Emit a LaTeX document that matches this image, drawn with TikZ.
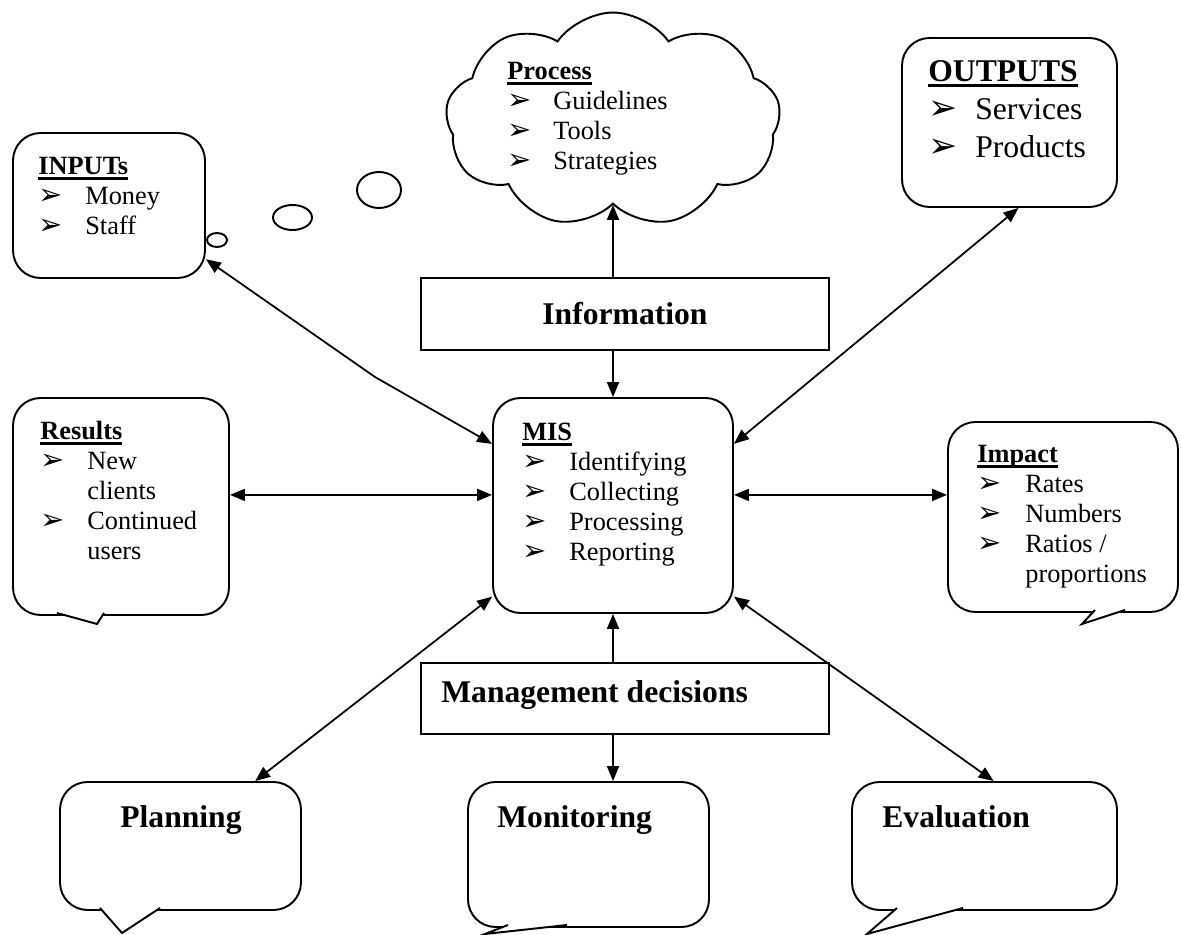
\documentclass[tikz,border=0pt]{standalone}
\usepackage{fontspec}
\setmainfont{Liberation Serif}
\newfontfamily\dingfont[Scale=1.1]{DejaVu Sans}
\usetikzlibrary{arrows.meta,shapes.symbols,calc}
\newcommand{\bul}{{\dingfont\symbol{"27A2}}}
\newcommand{\hd}[1]{\setbox0\hbox{\textbf{#1}}\rlap{\rule[-2.6pt]{\wd0}{1.2pt}}\box0}

\tikzset{
  box/.style={draw, line width=1.1pt, rounded corners=0.55cm, inner sep=0pt},
  flat/.style={draw, line width=1.1pt, inner sep=0pt},
  lst/.style={anchor=base west, inner sep=0pt, font=\fontsize{15}{17}\selectfont},
  big/.style={inner sep=0pt, font=\fontsize{18}{21.5}\selectfont\bfseries},
  link/.style={line width=1pt, {Triangle[length=0.3cm,width=0.24cm]}-{Triangle[length=0.3cm,width=0.24cm]}},
  toward/.style={line width=1pt, -{Triangle[length=0.3cm,width=0.24cm]}},
  tail/.style={line width=1.1pt, fill=white}
}

\begin{document}
\begin{tikzpicture}[x=0.02cm, y=-0.02cm]
  \useasboundingbox (0,0) rectangle (1181,935);

  % boxes
  \node[box, minimum width=3.84cm, minimum height=2.9cm] (inp) at (109,205.5) {};
  \node[draw, line width=1.1pt, cloud, cloud puffs=9, cloud puff arc=110,
        minimum width=6.7cm, minimum height=4.3cm] (proc) at (613,120) {};
  \node[box, minimum width=4.3cm, minimum height=3.38cm] (out) at (1009.5,122.5) {};
  \node[flat, big, minimum width=8.16cm, minimum height=1.44cm] (info) at (625,314) {Information};
  \node[box, minimum width=4.8cm, minimum height=4.3cm] (mis) at (613,505.5) {};
  \node[box, minimum width=4.32cm, minimum height=4.34cm] (res) at (121,506.5) {};
  \node[box, minimum width=4.6cm, minimum height=3.8cm] (imp) at (1063,517) {};
  \node[flat, minimum width=8.16cm, minimum height=1.42cm] (mgmt) at (625,698.5) {};
  \node[box, minimum width=4.82cm, minimum height=2.56cm] (plan) at (180.5,846) {};
  \node[box, minimum width=4.82cm, minimum height=2.9cm] (mon) at (588.5,854.5) {};
  \node[box, minimum width=5.3cm, minimum height=2.56cm] (eval) at (984.5,846) {};

  % callout tails
  \draw[tail] (57,613) -- (97,624) -- (104,613);
  \draw[tail] (1095,610) -- (1082,624) -- (1125,610);
  \draw[tail] (100,908) -- (122,933) -- (160,908);
  \draw[tail] (508,925) -- (485,934) -- (567,925);
  \draw[tail] (897,908) -- (867,934) -- (963,908);

  % thought bubbles
  \draw[line width=1.1pt] (217,240) ellipse [x radius=10, y radius=7];
  \draw[line width=1.1pt] (292.5,217.5) ellipse [x radius=19.5, y radius=12.5];
  \draw[line width=1.1pt] (379,190) ellipse [x radius=22, y radius=18];

  % texts
  \node[lst] (inptxt) at (38,175) {\begin{tabular}[t]{@{}p{0.94cm}@{}l@{}}
    \multicolumn{2}{@{}l@{}}{\hd{INPUTs}}\\
    \bul & Money\\
    \bul & Staff
  \end{tabular}};
  \node[lst] (proctxt) at (507,80) {\begin{tabular}[t]{@{}p{0.92cm}@{}l@{}}
    \multicolumn{2}{@{}l@{}}{\hd{Process}}\\
    \bul & Guidelines\\
    \bul & Tools\\
    \bul & Strategies
  \end{tabular}};
  \node[lst, font=\fontsize{18}{21.4}\selectfont] (outtxt) at (928,82) {\begin{tabular}[t]{@{}p{0.94cm}@{}l@{}}
    \multicolumn{2}{@{}l@{}}{\hd{OUTPUTS}}\\
    \bul & Services\\
    \bul & Products
  \end{tabular}};
  \node[lst] (mistxt) at (522,441) {\begin{tabular}[t]{@{}p{0.94cm}@{}l@{}}
    \multicolumn{2}{@{}l@{}}{\hd{MIS}}\\
    \bul & Identifying\\
    \bul & Collecting\\
    \bul & Processing\\
    \bul & Reporting
  \end{tabular}};
  \node[lst] (restxt) at (40,440) {\begin{tabular}[t]{@{}p{0.94cm}@{}l@{}}
    \multicolumn{2}{@{}l@{}}{\hd{Results}}\\
    \bul & New\\
         & clients\\
    \bul & Continued\\
         & users
  \end{tabular}};
  \node[lst] (imptxt) at (977,463) {\begin{tabular}[t]{@{}p{0.96cm}@{}l@{}}
    \multicolumn{2}{@{}l@{}}{\hd{Impact}}\\
    \bul & Rates\\
    \bul & Numbers\\
    \bul & Ratios /\\
         & proportions
  \end{tabular}};
  \node[big, anchor=base west] (mgmttxt) at (441,703) {Management decisions};
  \node[big, anchor=base] (plantxt) at (181,828) {Planning};
  \node[big, anchor=base west] (montxt) at (497,828) {Monitoring};
  \node[big, anchor=base west] (evaltxt) at (882,828) {Evaluation};

  % connectors
  \coordinate (kink) at (375,377);
  \draw[link] (inp.-29) -- (kink) -- (mis.153);
  \draw[toward] (info.north -| mis.north) -- (proc.south);
  \draw[toward] (info.south -| mis.north) -- (mis.north);
  \draw[link] (out.-84) -- (mis.27.5);
  \draw[link] (res.east |- mis.175) -- (mis.175);
  \draw[link] (mis.5) -- (mis.5 -| imp.west);
  \draw[link] (mis.-143) -- (plan.41);
  \draw[toward] (mgmt.north -| mis.south) -- (mis.south);
  \draw[toward] (mgmt.south -| mis.south) -- (mis.south |- mon.north);
  \draw[link] (mis.-37) -- (eval.82);
\end{tikzpicture}
\end{document}
